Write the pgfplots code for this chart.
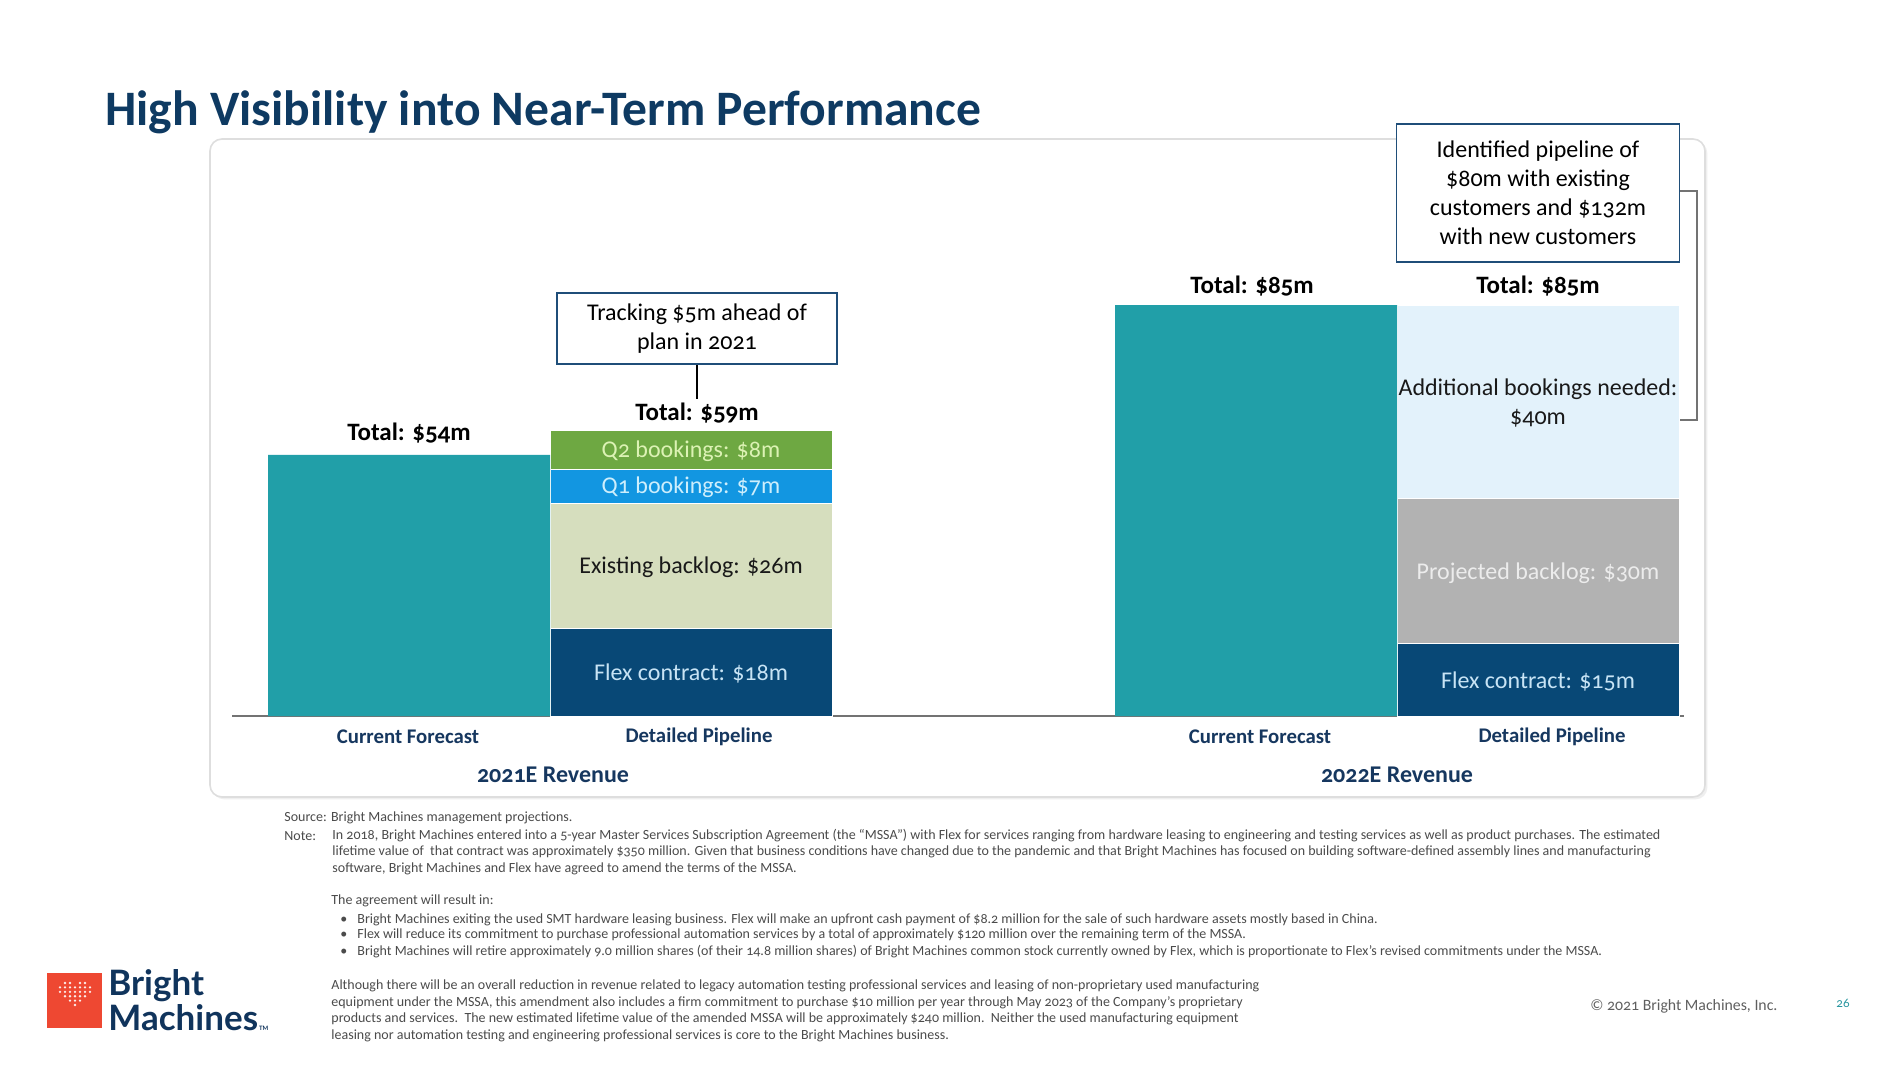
\documentclass[border=0pt]{standalone}
\usepackage{pgfplots}
\pgfplotsset{compat=1.18}
\usepackage{fontspec}
\setmainfont{Carlito}[Numbers=OldStyle]
\newfontfamily\logofont{Lato}
\usetikzlibrary{shadows}
\definecolor{titleblue}{RGB}{14,58,98}
\definecolor{catblue}{RGB}{22,55,95}
\definecolor{tealbar}{RGB}{33,159,168}
\definecolor{navybar}{RGB}{8,72,118}
\definecolor{backlogA}{RGB}{214,222,190}
\definecolor{backlogB}{RGB}{178,178,178}
\definecolor{qone}{RGB}{18,150,225}
\definecolor{qtwo}{RGB}{110,168,66}
\definecolor{addl}{RGB}{227,242,251}
\definecolor{basegray}{RGB}{115,115,115}
\definecolor{boxblue}{RGB}{31,78,121}
\definecolor{notegray}{RGB}{75,75,75}
\definecolor{copygray}{RGB}{95,95,95}
\definecolor{cardgray}{RGB}{222,222,222}
\definecolor{logored}{RGB}{238,72,50}
\definecolor{logonavy}{RGB}{16,52,92}
\definecolor{pagenum}{RGB}{40,150,160}
\definecolor{flextext}{RGB}{200,228,245}
\definecolor{darktext}{RGB}{25,25,25}
\definecolor{qonetext}{RGB}{205,238,252}
\definecolor{qtwotext}{RGB}{220,242,180}
\definecolor{projtext}{RGB}{236,236,236}
\begin{document}
\begin{tikzpicture}
% ---------- background, card, title (pixel frame: 1 px = 0.5 pt) ----------
\begin{scope}[x=0.5pt,y=-0.5pt]
  \fill[white] (0,0) rectangle (1900,1066);
  \draw[draw=cardgray, line width=0.8pt, fill=white, rounded corners=6pt,
        drop shadow={opacity=0.12, shadow xshift=1.2pt, shadow yshift=-1.2pt}]
        (210,139) rectangle (1705,797);
  \node[anchor=west, inner sep=0pt, text=titleblue, font=\fontsize{24.8}{28}\selectfont\bfseries]
        at (105,112) {High Visibility into Near-Term Performance};
\end{scope}
% ---------- chart ----------
\begin{axis}[
  at={(0pt,-358pt)}, anchor=south west,
  width=950pt, height=358pt, scale only axis,
  xmin=0, xmax=1900, ymin=0, ymax=148.09,
  hide axis,
  ybar stacked, bar width=141pt,
  clip=false,
]
\addplot[fill=tealbar, draw=none] coordinates {(409,54) (691,0) (1256,85) (1538,0)};
\addplot[fill=navybar, draw=white, line width=0.5pt] coordinates {(409,0) (691,18) (1256,0) (1538,15)};
\addplot[fill=backlogA, draw=white, line width=0.5pt] coordinates {(409,0) (691,26) (1256,0) (1538,0)};
\addplot[fill=backlogB, draw=white, line width=0.5pt] coordinates {(409,0) (691,0) (1256,0) (1538,30)};
\addplot[fill=qone, draw=white, line width=0.5pt] coordinates {(409,0) (691,7) (1256,0) (1538,0)};
\addplot[fill=qtwo, draw=white, line width=0.5pt] coordinates {(409,0) (691,8) (1256,0) (1538,0)};
\addplot[fill=addl, draw=white, line width=0.5pt] coordinates {(409,0) (691,0) (1256,0) (1538,40)};

\draw[basegray, line width=1.1pt] (axis cs:232,0) -- (axis cs:1684,0);

% totals
\node[font=\fontsize{12.5}{15}\selectfont\bfseries, inner sep=0pt] at (axis cs:409,58.6) {Total: \$54m};
\node[font=\fontsize{12.5}{15}\selectfont\bfseries, inner sep=0pt] at (axis cs:697,62.7) {Total: \$59m};
\node[font=\fontsize{12.5}{15}\selectfont\bfseries, inner sep=0pt] at (axis cs:1252,88.9) {Total: \$85m};
\node[font=\fontsize{12.5}{15}\selectfont\bfseries, inner sep=0pt] at (axis cs:1538,88.9) {Total: \$85m};

% call-out boxes
\node[draw=boxblue, line width=0.8pt, fill=white, minimum width=140pt, minimum height=35.5pt,
      align=center, inner sep=2pt, font=\fontsize{12}{14.5}\selectfont]
      at (axis cs:697,80.2) {Tracking \$5m ahead of\\ plan in 2021};
\draw[black, line width=0.7pt] (axis cs:697,72.86) -- (axis cs:697,65.6);
\node[draw=boxblue, line width=0.8pt, fill=white, minimum width=141.5pt, minimum height=69pt,
      align=center, inner sep=2pt, font=\fontsize{12}{14.4}\selectfont]
      at (axis cs:1538,108.2) {Identified pipeline of\\ \$80m with existing\\ customers and \$132m\\ with new customers};
\draw[basegray, line width=0.7pt] (axis cs:1680,108.6) -- (axis cs:1697,108.6)
      -- (axis cs:1697,61.2) -- (axis cs:1680,61.2);

% category labels
\node[font=\fontsize{10.4}{12}\selectfont\bfseries, inner sep=0pt, text=catblue] at (axis cs:408,-4.3) {Current Forecast};
\node[font=\fontsize{10.4}{12}\selectfont\bfseries, inner sep=0pt, text=catblue] at (axis cs:699,-4.3) {Detailed Pipeline};
\node[font=\fontsize{10.4}{12}\selectfont\bfseries, inner sep=0pt, text=catblue] at (axis cs:1260,-4.3) {Current Forecast};
\node[font=\fontsize{10.4}{12}\selectfont\bfseries, inner sep=0pt, text=catblue] at (axis cs:1552,-4.3) {Detailed Pipeline};
\node[font=\fontsize{12}{14}\selectfont\bfseries, inner sep=0pt, text=catblue] at (axis cs:553,-12.2) {2021E Revenue};
\node[font=\fontsize{12}{14}\selectfont\bfseries, inner sep=0pt, text=catblue] at (axis cs:1397,-12.2) {2022E Revenue};
\end{axis}
% ---------- segment labels (drawn above the bars) ----------
\begin{scope}[x=0.5pt,y=-0.5pt, every node/.style={inner sep=0pt, font=\fontsize{12}{14.4}\selectfont}]
  \node[text=flextext] at (691,673) {Flex contract: \$18m};
  \node[text=darktext] at (691,567) {Existing backlog: \$26m};
  \node[text=qonetext] at (691,487) {Q1 bookings: \$7m};
  \node[text=qtwotext] at (691,451) {Q2 bookings: \$8m};
  \node[text=flextext] at (1538,681) {Flex contract: \$15m};
  \node[text=projtext] at (1538,573) {Projected backlog: \$30m};
  \node[text=darktext, align=center] at (1538,403) {Additional bookings needed:\\ \$40m};
\end{scope}
% ---------- footnotes, logo ----------
\begin{scope}[x=0.5pt,y=-0.5pt, every node/.style={anchor=west, inner sep=0pt, text=notegray, font=\fontsize{7}{8.4}\selectfont}]
  \node at (284,818) {Source: Bright Machines management projections.};
  \node at (284,836) {Note:};
  \node at (332,836) {In 2018, Bright Machines entered into a 5-year Master Services Subscription Agreement (the “MSSA”) with Flex for services ranging from hardware leasing to engineering and testing services as well as product purchases. The estimated};
  \node at (332,852) {lifetime value of\ \ that contract was approximately \$350 million. Given that business conditions have changed due to the pandemic and that Bright Machines has focused on building software-defined assembly lines and manufacturing};
  \node at (332,869) {software, Bright Machines and Flex have agreed to amend the terms of the MSSA.};
  \node at (331,901) {The agreement will result in:};
  \node at (340,920) {•};
  \node at (340,935) {•};
  \node at (340,952) {•};
  \node at (357,920) {Bright Machines exiting the used SMT hardware leasing business. Flex will make an upfront cash payment of \$8.2 million for the sale of such hardware assets mostly based in China.};
  \node at (357,935) {Flex will reduce its commitment to purchase professional automation services by a total of approximately \$120 million over the remaining term of the MSSA.};
  \node at (357,952) {Bright Machines will retire approximately 9.0 million shares (of their 14.8 million shares) of Bright Machines common stock currently owned by Flex, which is proportionate to Flex’s revised commitments under the MSSA.};
  \node at (331,986) {Although there will be an overall reduction in revenue related to legacy automation testing professional services and leasing of non-proprietary used manufacturing};
  \node at (331,1003) {equipment under the MSSA, this amendment also includes a firm commitment to purchase \$10 million per year through May 2023 of the Company’s proprietary};
  \node at (331,1019) {products and services.\ \ The new estimated lifetime value of the amended MSSA will be approximately \$240 million.\ \ Neither the used manufacturing equipment};
  \node at (331,1036) {leasing nor automation testing and engineering professional services is core to the Bright Machines business.};
  \node[font=\fontsize{7.9}{9.4}\selectfont, text=copygray] at (1590,1006) {© 2021 Bright Machines, Inc.};
  \node[font=\fontsize{6.5}{8}\selectfont, text=pagenum] at (1836,1003) {26};
  % logo
  \fill[logored] (47,973) rectangle (102,1028);
  \foreach \r/\cols in {0/{1,2,4,5},1/{0,1,2,3,4,5,6},2/{0,1,2,3,4,5,6},3/{1,2,3,4,5},4/{2,3,4},5/{3}} {
    \foreach \c in \cols {
      \fill[white, opacity=0.9] (60+\c*5,983+\r*4.4) circle (1.3);
    }
  }
  \node[text=logonavy, align=left, font=\logofont\fontsize{17.5}{14}\selectfont\bfseries] at (108,1000) {Bright\\ Machines\rlap{\fontsize{3}{3}\selectfont\,TM}};
\end{scope}
\end{tikzpicture}
\end{document}
